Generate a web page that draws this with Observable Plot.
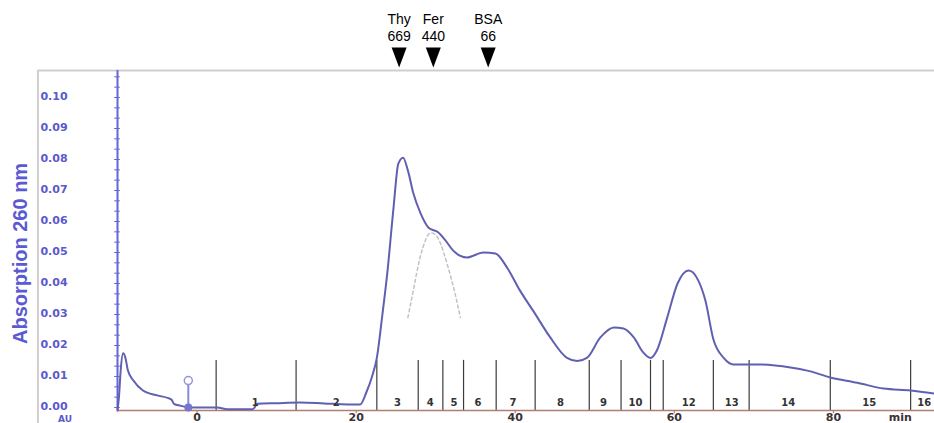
<!DOCTYPE html>
<html>
<head>
<meta charset="utf-8">
<script src="https://cdn.jsdelivr.net/npm/d3@7"></script>
<script src="https://cdn.jsdelivr.net/npm/@observablehq/plot@0.6"></script>
<style>
  body { margin: 0; background: #fff; }
  g[aria-label="y-tick-labels"] text { letter-spacing: 3px; }
  g[aria-label="x-tick-labels"] text { letter-spacing: 1.5px; }
  g[aria-label="fraction-labels"] text { letter-spacing: 1.5px; }
</style>
</head>
<body>
<div id="chart"></div>
<script>
// Elution time (min) and absorbance at 260 nm (AU)
const time = [-10.0, -9.8, -9.6, -9.3, -9.0, -8.7, -8.0, -6.8, -5.0, -3.6, -3.2, -2.9, -2.1, -0.9,
  2.5, 4.0, 7.0, 7.6, 10.0, 13.0, 16.0, 19.0, 20.5, 21.3, 22.0, 22.6, 23.3, 23.9, 24.7, 25.3,
  25.9, 26.5, 27.2, 28.1, 29.1, 30.3, 31.2, 32.2, 33.9, 36.0, 37.5, 39.0, 40.6, 42.3, 44.4,
  46.5, 47.8, 49.0, 50.7, 52.4, 53.6, 54.9, 56.1, 57.0, 57.8, 59.1, 60.4, 61.8, 63.0, 63.9,
  64.9, 66.2, 67.4, 70.4, 74.6, 76.7, 79.6, 83.0, 86.3, 89.7, 92.7];
const absorbance = [-0.001, 0.004, 0.012, 0.0175, 0.016, 0.012, 0.0087, 0.0055, 0.0039, 0.003,
  0.0025, 0.0012, 0.0006, 0.0, 0.0, -0.0006, -0.0006, 0.0012, 0.0014, 0.0016, 0.0013, 0.0010,
  0.0010, 0.005, 0.010, 0.016, 0.030, 0.043, 0.0645, 0.0787, 0.0806, 0.0765, 0.069, 0.0626,
  0.058, 0.0565, 0.054, 0.0506, 0.0484, 0.0500, 0.0497, 0.045, 0.0377, 0.031, 0.0226, 0.016,
  0.015, 0.016, 0.0226, 0.0258, 0.0255, 0.0226, 0.0177, 0.016, 0.0184, 0.029, 0.040, 0.0442,
  0.041, 0.0345, 0.022, 0.016, 0.0139, 0.0139, 0.0129, 0.0119, 0.0097, 0.008, 0.0061, 0.0055,
  0.0045];

// Deconvoluted shoulder peak (dashed)
const shoulderTime = [26.5, 27.2, 28.0, 28.8, 29.4, 30.2, 31.0, 31.8, 32.5, 33.1];
const shoulderAbs = [0.029, 0.038, 0.048, 0.0545, 0.0563, 0.055, 0.050, 0.043, 0.036, 0.029];

// Fraction collector marks and fraction numbers
const fractionBounds = [2.4, 12.45, 22.6, 27.8, 30.9, 33.5, 37.6, 42.5, 49.3, 53.3, 57.0, 58.6,
  64.9, 69.4, 79.6, 89.7];
const fractionLabelTime = [7.3, 17.5, 25.2, 29.3, 32.3, 35.3, 39.7, 45.7, 51.1, 55.1, 61.8, 67.2,
  74.3, 84.5, 91.4];
const fractionLabels = ["1", "2", "3", "4", "5", "6", "7", "8", "9", "10", "12", "13", "14", "15", "16"];

// Calibration standards (kDa)
const markerTime = [25.4, 29.7, 36.6];
const markerNames = ["Thy", "Fer", "BSA"];
const markerMW = ["669", "440", "66"];

// Injection mark
const injectTime = [-1.1];

// Axis ticks
const xTicks = [0, 20, 40, 60, 80];
const xTickLabels = ["0", "20", "40", "60", "80"];
const yTicks = [0, 0.01, 0.02, 0.03, 0.04, 0.05, 0.06, 0.07, 0.08, 0.09, 0.10];
const yTickLabels = ["0.00", "0.01", "0.02", "0.03", "0.04", "0.05", "0.06", "0.07", "0.08", "0.09", "0.10"];

const trace = time.map((t, i) => ({t, a: absorbance[i]}));
const shoulder = shoulderTime.map((t, i) => ({t, a: shoulderAbs[i]}));

const xMin = -10, xMax = 92.7, frameLeft = -20, frameTop = 0.1087;
const blue = "#6464d8";

// Narrow down-pointing triangle for the standards
const downTriangle = {
  draw(ctx) {
    ctx.moveTo(-7.5, -10);
    ctx.lineTo(7.5, -10);
    ctx.lineTo(0, 10);
    ctx.closePath();
  }
};

const chart = Plot.plot({
  width: 934,
  height: 423,
  marginLeft: 117,
  marginRight: 0,
  marginTop: 97,
  marginBottom: 16,
  x: {domain: [xMin, xMax], axis: null},
  y: {domain: [0, 0.1], axis: null},
  style: {background: "transparent", fontFamily: "'Liberation Sans', Arial, sans-serif"},
  marks: [
    // light panel border
    Plot.ruleY([frameTop], {x1: frameLeft, x2: xMax, stroke: "#cfcfcf", strokeWidth: 2}),
    Plot.ruleX([frameLeft], {y1: -0.01, y2: frameTop, stroke: "#cfcfcf", strokeWidth: 2}),

    // fraction collector marks
    Plot.ruleX(fractionBounds, {y1: -0.001, y2: 0.0152, stroke: "#3c3c3c", strokeWidth: 1.2}),

    // baseline
    Plot.ruleY([-0.001], {x1: xMin, x2: xMax, stroke: "#b07e76", strokeWidth: 1.5}),
    Plot.ruleX(xTicks, {y1: -0.001, y2: -0.002, stroke: "#b07e76", strokeWidth: 1.2}),

    // y axis line with minor ticks
    Plot.ruleX([xMin], {y1: -0.001, y2: frameTop, stroke: blue, strokeWidth: 2}),
    Plot.ruleY(d3.range(0, frameTop, 0.01 / 3), {x1: xMin - 0.35, x2: xMin + 0.35, stroke: blue, strokeWidth: 1}),

    // deconvoluted shoulder
    Plot.line(shoulder, {x: "t", y: "a", stroke: "#c2c2c2", strokeWidth: 1.5, strokeDasharray: "3,3", curve: "natural"}),

    // chromatogram
    Plot.line(trace, {x: "t", y: "a", stroke: "#6060b2", strokeWidth: 2, curve: "monotone-x"}),

    // injection mark
    Plot.ruleX(injectTime, {y1: 0, y2: 0.0074, stroke: "#8a8ad6", strokeWidth: 2}),
    Plot.dot(injectTime, {x: d => d, y: 0.0087, r: 4, stroke: "#9494dc", fill: "white", strokeWidth: 1.5}),
    Plot.dot(injectTime, {x: d => d, y: 0, r: 4, fill: "#7676d2"}),

    // fraction numbers
    Plot.text(fractionLabelTime, {x: d => d, y: 0.0015, text: (d, i) => fractionLabels[i],
      fontSize: 10, fontWeight: "bold", fill: "#333", fontFamily: "DejaVu Sans", ariaLabel: "fraction-labels"}),

    // y tick labels
    Plot.text(yTicks, {x: frameLeft, y: d => d, dy: -1, text: (d, i) => yTickLabels[i], dx: 2.5, textAnchor: "start",
      fontSize: 11, fontWeight: "bold", fill: "#5a5acc", fontFamily: "DejaVu Sans", ariaLabel: "y-tick-labels"}),
    Plot.text(["AU"], {x: -16.6, y: -0.0037, text: d => d, fontSize: 9, fontWeight: "bold",
      fill: "#5a5acc", fontFamily: "DejaVu Sans"}),

    // x tick labels
    Plot.text(xTicks, {x: d => d, y: -0.0031, text: (d, i) => xTickLabels[i], fontSize: 11, fontWeight: "bold",
      fill: "#3a3232", fontFamily: "DejaVu Sans", ariaLabel: "x-tick-labels"}),
    Plot.text(["min"], {x: 88.4, y: -0.0031, text: d => d, fontSize: 11, fontWeight: "bold",
      fill: "#3a3232", fontFamily: "DejaVu Sans", ariaLabel: "x-tick-labels"}),

    // y axis title
    Plot.text(["Absorption 260 nm"], {x: frameLeft, y: 0.0497, text: d => d, dx: -17.5, rotate: -90,
      fontSize: 20, fontWeight: "bold", fill: "#5a5ad2"}),

    // calibration standards
    Plot.text(markerTime, {x: d => d, y: 0.1227, text: (d, i) => markerNames[i] + "\n" + markerMW[i],
      fontSize: 14, lineHeight: 1.2, fill: "black"}),
    Plot.dot(markerTime, {x: d => d, y: 0.1129, symbol: downTriangle, r: 8, fill: "black"})
  ]
});

document.getElementById("chart").append(chart);
</script>
</body>
</html>
